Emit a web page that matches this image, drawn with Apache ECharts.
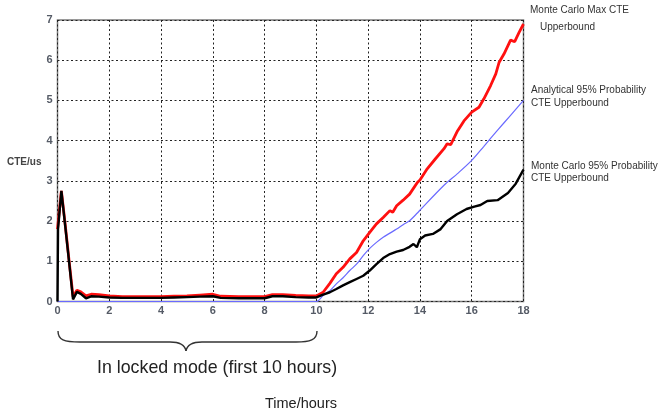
<!DOCTYPE html>
<html>
<head>
<meta charset="utf-8">
<script src="https://cdn.jsdelivr.net/npm/echarts@6/dist/echarts.min.js"></script>
<style>html,body{margin:0;padding:0;background:#fff}#c{width:659px;height:416px}</style>
</head>
<body>
<div id="c"></div>
<script>
// Time (hours) and CTE (us) values
const maxTime = [0,0.15,0.3,0.45,0.6,0.75,0.9,1.1,1.3,1.6,2,2.5,3,3.5,4,4.5,5,5.5,6,6.3,7,7.5,8,8.3,8.7,9.2,9.7,10,
  10.26,10.52,10.77,11.03,11.29,11.55,11.81,12.06,12.32,12.58,12.84,12.95,13.1,13.35,13.6,13.9,14,14.28,14.6,14.93,15.05,15.19,15.45,15.7,16,16.28,16.47,16.73,16.93,17.06,17.25,17.5,17.66,17.83,18];
const maxCTE = [1.8,2.75,1.9,1.0,0.12,0.28,0.24,0.14,0.18,0.17,0.14,0.12,0.12,0.12,0.12,0.13,0.14,0.16,0.18,0.13,0.12,0.12,0.12,0.17,0.17,0.15,0.14,0.14,
  0.23,0.45,0.69,0.85,1.06,1.22,1.51,1.72,1.93,2.09,2.26,2.22,2.38,2.52,2.67,2.96,3.02,3.3,3.55,3.8,3.92,3.9,4.24,4.49,4.71,4.83,5.04,5.37,5.66,5.95,6.16,6.5,6.46,6.69,6.9];

const mcTime = [0,0.02,0.15,0.3,0.45,0.6,0.75,0.9,1.1,1.3,1.6,2,2.5,3,3.5,4,4.5,5,5.5,6,6.3,7,7.5,8,8.3,8.7,9.2,9.7,10,
  10.26,10.52,10.77,11.03,11.29,11.55,11.81,12.06,12.32,12.58,12.84,13.1,13.35,13.6,13.75,13.88,14,14.2,14.5,14.8,15.05,15.43,15.8,16.1,16.34,16.6,17,17.4,17.7,18];
const mcCTE = [0,1.8,2.75,1.87,0.97,0.05,0.24,0.19,0.08,0.13,0.12,0.1,0.09,0.09,0.09,0.09,0.1,0.11,0.12,0.13,0.09,0.08,0.08,0.08,0.13,0.13,0.11,0.1,0.1,
  0.17,0.23,0.31,0.4,0.48,0.56,0.64,0.77,0.93,1.08,1.18,1.24,1.28,1.36,1.43,1.35,1.55,1.64,1.68,1.8,2.0,2.17,2.3,2.36,2.4,2.5,2.52,2.7,2.93,3.28];

const anTime = [0,10,10.26,10.52,10.77,11.03,11.29,11.55,11.81,12.06,12.32,12.58,12.84,13.1,13.35,13.6,13.9,14,14.93,15.45,16,16.47,17,17.5,18];
const anCTE = [0,0,0.15,0.27,0.44,0.59,0.77,0.93,1.14,1.32,1.47,1.6,1.7,1.8,1.91,2.01,2.2,2.27,2.89,3.18,3.51,3.86,4.26,4.63,5.0];

const xTicks = [0,2,4,6,8,10,12,14,16,18];
const yTicks = [0,1,2,3,4,5,6,7];

const zip = (a, b) => a.map((v, i) => [v, b[i]]);
const chart = echarts.init(document.getElementById('c'), null, {renderer: 'canvas'});
const FONT = 'Liberation Sans, Arial, sans-serif';
const labelStyle = {color: '#555b66', fontSize: 11, fontWeight: 'bold', fontFamily: FONT};
const grid = {left: 57.5, top: 20, right: 135.5, bottom: 114.5, show: true, borderColor: '#7a7a7a', borderWidth: 1.5, backgroundColor: 'transparent'};

function txt(x, y, s, font, fill) {
  return {type: 'text', x: x, y: y, style: {text: s, fill: fill || '#333', font: font, textVerticalAlign: 'middle'}};
}
const braceStyle = {stroke: '#333', lineWidth: 1.4, fill: null};

chart.setOption({
  animation: false,
  grid: grid,
  xAxis: {
    type: 'value', min: xTicks[0], max: xTicks[xTicks.length - 1], interval: 2,
    axisLine: {show: false}, axisTick: {show: false},
    axisLabel: Object.assign({margin: 4}, labelStyle),
    splitLine: {show: true, lineStyle: {color: '#222', type: [2, 2.5], width: 1}}
  },
  yAxis: {
    type: 'value', min: yTicks[0], max: yTicks[yTicks.length - 1], interval: 1,
    axisLine: {show: false}, axisTick: {show: false},
    axisLabel: Object.assign({margin: 5}, labelStyle),
    splitLine: {show: true, lineStyle: {color: '#222', type: [2, 2.5], width: 1}}
  },
  series: [
    {name: 'Analytical', type: 'line', data: zip(anTime, anCTE), showSymbol: false, smooth: 0.3,
     lineStyle: {color: '#6a6aff', width: 1.2}, z: 2},
    {name: 'MC Max', type: 'line', data: zip(maxTime, maxCTE), showSymbol: false,
     lineStyle: {color: '#ff1010', width: 2.8}, z: 3},
    {name: 'MC 95', type: 'line', data: zip(mcTime, mcCTE), showSymbol: false,
     lineStyle: {color: '#000', width: 2.4}, z: 4}
  ],
  graphic: [
    txt(7, 162, 'CTE/us', 'bold 10px ' + FONT, '#444'),
    txt(530, 10, 'Monte Carlo Max CTE', '10px ' + FONT),
    txt(540, 27, 'Upperbound', '10px ' + FONT),
    txt(531, 90, 'Analytical 95% Probability', '10px ' + FONT),
    txt(531, 103, 'CTE Upperbound', '10px ' + FONT),
    txt(531, 166, 'Monte Carlo 95% Probability', '10px ' + FONT),
    txt(531, 178, 'CTE Upperbound', '10px ' + FONT),
    {type: 'bezierCurve', shape: {x1: 58, y1: 331, cpx1: 58, cpy1: 340, cpx2: 64, cpy2: 342, x2: 80, y2: 342}, style: braceStyle},
    {type: 'line', shape: {x1: 80, y1: 342, x2: 170, y2: 342}, style: braceStyle},
    {type: 'bezierCurve', shape: {x1: 170, y1: 342, cpx1: 180, cpy1: 342, cpx2: 185, cpy2: 345, x2: 186, y2: 351}, style: braceStyle},
    {type: 'bezierCurve', shape: {x1: 186, y1: 351, cpx1: 187, cpy1: 345, cpx2: 192, cpy2: 342, x2: 202, y2: 342}, style: braceStyle},
    {type: 'line', shape: {x1: 202, y1: 342, x2: 296, y2: 342}, style: braceStyle},
    {type: 'bezierCurve', shape: {x1: 296, y1: 342, cpx1: 310, cpy1: 342, cpx2: 317, cpy2: 340, x2: 317, y2: 331}, style: braceStyle},
    txt(97, 368, 'In locked mode (first 10 hours)', '17.8px ' + FONT, '#222'),
    txt(265, 404, 'Time/hours', '14.5px ' + FONT, '#222')
  ]
});
</script>
</body>
</html>
